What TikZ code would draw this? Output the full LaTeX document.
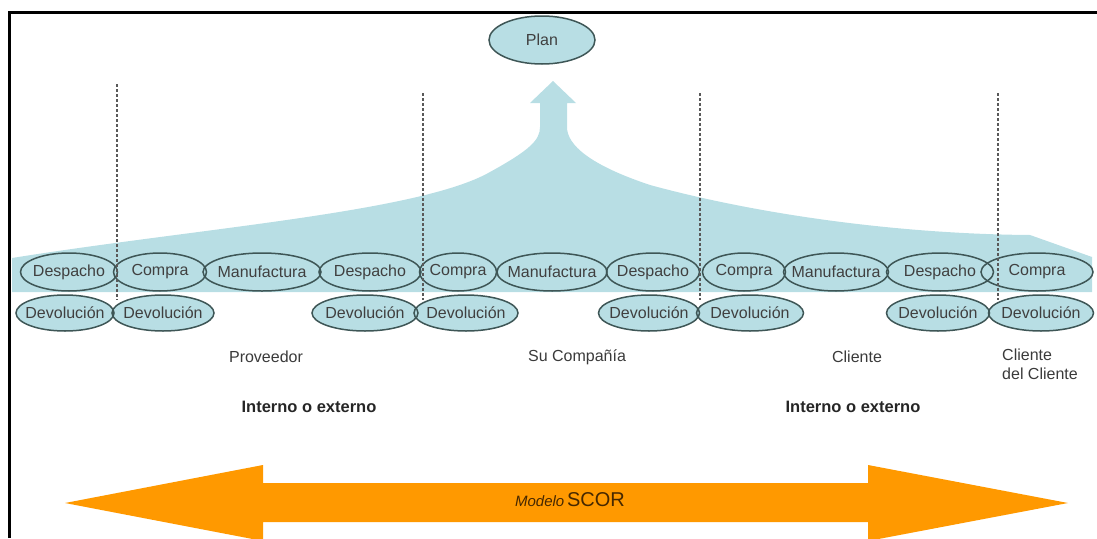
\documentclass[tikz,border=0pt]{standalone}
\usepackage{fontspec}
\setmainfont{Liberation Sans}
\usetikzlibrary{shapes,positioning}

\definecolor{scorblue}{RGB}{184,222,228}
\definecolor{scorline}{RGB}{62,86,86}
\definecolor{scororange}{RGB}{255,153,0}
\definecolor{labelgray}{RGB}{58,58,58}

\tikzset{
  proc/.style={ellipse, draw=scorline, line width=1.5pt, inner sep=0pt,
    text=black!75, font=\fontsize{16}{18}\selectfont},
  sep/.style={draw=black!65, line width=1.1pt, dash pattern=on 3pt off 2pt},
  actor/.style={text=labelgray, font=\fontsize{16}{19}\selectfont},
  scope/.style={text=black!85, font=\fontsize{16.5}{19}\selectfont\bfseries}
}

% x / width / name / text
\newcommand{\toprow}{69/97/despA/Despacho, 160/93/compA/Compra,
  262/118/manuA/Manufactura, 370/102/despB/Despacho, 458/77/compB/Compra,
  552/110/manuB/Manufactura, 653/93/despC/Despacho, 744/83/compC/Compra,
  836/105/manuC/Manufactura, 940/107/despD/Despacho, 1037/112/compD/Compra}
\newcommand{\lowrow}{65/98/devA, 163/102/devB, 365/106/devC, 466/104/devD,
  649/101/devE, 750/107/devF, 938/103/devG, 1041/105/devH}
% text of no width, so the ellipse keeps the size asked for
\newcommand{\lbl}[1]{\makebox[0pt]{#1}}

\begin{document}
\begin{tikzpicture}[x=1pt,y=-1pt]
\useasboundingbox (0,0) rectangle (1097,538);

% frame
\draw[line width=3pt] (9,538) -- (9,12) -- (1097,12);

% plan band with the arrow going up
\fill[scorblue] (12,292) -- (12,258)
  .. controls (200,228) and (420,212) .. (490,172)
  .. controls (530,150) and (540,140) .. (540,127)
  -- (540,103) -- (530,103) -- (553,81) -- (576,103) -- (567,103) -- (567,127)
  .. controls (567,145) and (590,165) .. (650,185)
  .. controls (760,215) and (900,234) .. (1030,235)
  -- (1092,257) -- (1092,292) -- cycle;

\node[proc, fill=scorblue, minimum width=106pt, minimum height=48pt] (plan) at (542,40) {\lbl{Plan}};

% fill first so every outline stays visible
\foreach \x/\w/\n/\t in \toprow
  \fill[scorblue] (\x,272) ellipse ({\w/2} and 19);
\foreach \x/\w/\n in \lowrow
  \fill[scorblue] (\x,313) ellipse ({\w/2} and 18);

\foreach \x/\w/\n/\t in \toprow
  \node[proc, minimum width=\w pt, minimum height=38pt] (\n) at (\x,272) {\lbl{\t}};
\foreach \x/\w/\n in \lowrow
  \node[proc, minimum width=\w pt, minimum height=36pt] (\n) at (\x,313) {\lbl{Devolución}};

% separators
\draw[sep] (117,84) -- (117,300);
\foreach \x in {423,700,998}
  \draw[sep] (\x,93) -- (\x,300);

\node[actor] (prov) at (266,357) {Proveedor};
\node[actor] (comp) at (577,357) {Su Compañía};
\node[actor] (cli) at (857,357) {Cliente};
\node[actor, anchor=north west, align=left, inner sep=0pt] (clicli) at (1002,349) {Cliente\\del Cliente};

\node[scope] (intA) at (309,407) {Interno o externo};
\node[scope] (intB) at (853,407) {Interno o externo};

% SCOR arrow
\fill[scororange] (65,503) -- (263,465) -- (263,483) -- (868,483) -- (868,465)
  -- (1068,503) -- (868,541) -- (868,522) -- (263,522) -- (263,541) -- cycle;
\node[text={rgb,255:red,70;green,40;blue,0}] (scor) at (570,500)
  {{\fontsize{15}{17}\selectfont\itshape Modelo} {\fontsize{20}{22}\selectfont SCOR}};

\end{tikzpicture}
\end{document}
